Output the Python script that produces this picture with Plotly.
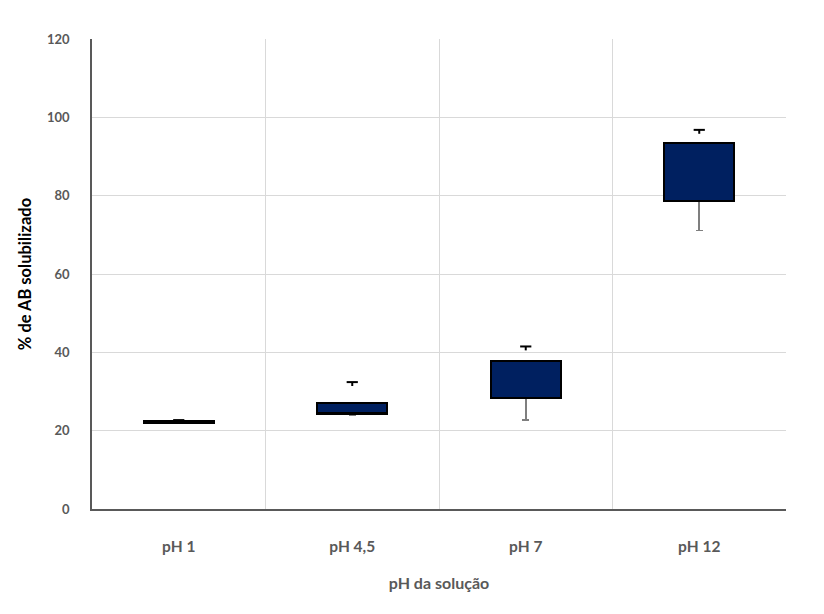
import plotly.graph_objects as go

categories = ["pH 1", "pH 4,5", "pH 7", "pH 12"]
minimum = [21.8, 24.0, 22.7, 71.1]
q1 = [22.1, 24.4, 28.3, 78.7]
q3 = [22.4, 27.0, 37.8, 93.4]
maximum = [22.7, 32.4, 41.5, 96.8]
y_ticks = [0, 20, 40, 60, 80, 100, 120]

# style: the upper whisker is drawn as a short "T" cap at the maximum
cap_stem = 1.0

box_height = [b - a for a, b in zip(q1, q3)]
lower_whisker = [a - m for a, m in zip(q1, minimum)]

fig = go.Figure()
fig.add_trace(go.Bar(
    x=categories, y=q1,
    marker=dict(color="rgba(0,0,0,0)", line=dict(width=0)),
    error_y=dict(type="data", symmetric=False, array=[0] * 4,
                 arrayminus=lower_whisker, color="#7f7f7f",
                 thickness=1.6, width=3.5),
    hoverinfo="skip", showlegend=False,
))
fig.add_trace(go.Bar(
    x=categories, y=box_height,
    marker=dict(color="#002060", line=dict(color="#000000", width=2.2)),
    showlegend=False,
))
fig.add_trace(go.Scatter(
    x=categories, y=maximum, mode="markers",
    marker=dict(symbol="line-ew", size=8, color="#000000",
                line=dict(color="#000000", width=2)),
    error_y=dict(type="data", symmetric=False, array=[0] * 4,
                 arrayminus=[cap_stem] * 4, color="#000000",
                 thickness=2, width=0),
    showlegend=False,
))

fig.update_layout(
    barmode="stack",
    bargap=0.595,
    width=824, height=614,
    margin=dict(l=92, r=38, t=39, b=105),
    paper_bgcolor="white",
    plot_bgcolor="white",
    font=dict(family="Lato", color="#595959"),
    showlegend=False,
)
fig.update_xaxes(
    tickson="boundaries",
    showgrid=True, gridcolor="#d9d9d9", gridwidth=1,
    showline=True, linecolor="#595959", linewidth=1.5,
    ticks="", ticklabelstandoff=23,
    tickfont=dict(size=15.5, family="Lato", color="#595959", weight="bold"),
    title=dict(text="pH da solução", standoff=23,
               font=dict(size=16, family="Lato", color="#595959", weight="bold")),
)
fig.update_yaxes(
    range=[0, 120],
    tickvals=y_ticks,
    showgrid=True, gridcolor="#d9d9d9", gridwidth=1,
    showline=True, linecolor="#595959", linewidth=1.5,
    ticks="", ticklabelstandoff=18,
    tickfont=dict(size=13, family="Lato", color="#595959", weight="bold"),
    zeroline=False,
    title=dict(text="% de AB solubilizado", standoff=11,
               font=dict(size=16.5, family="Lato", color="#000000", weight="bold")),
)

fig.write_html("out.html")
